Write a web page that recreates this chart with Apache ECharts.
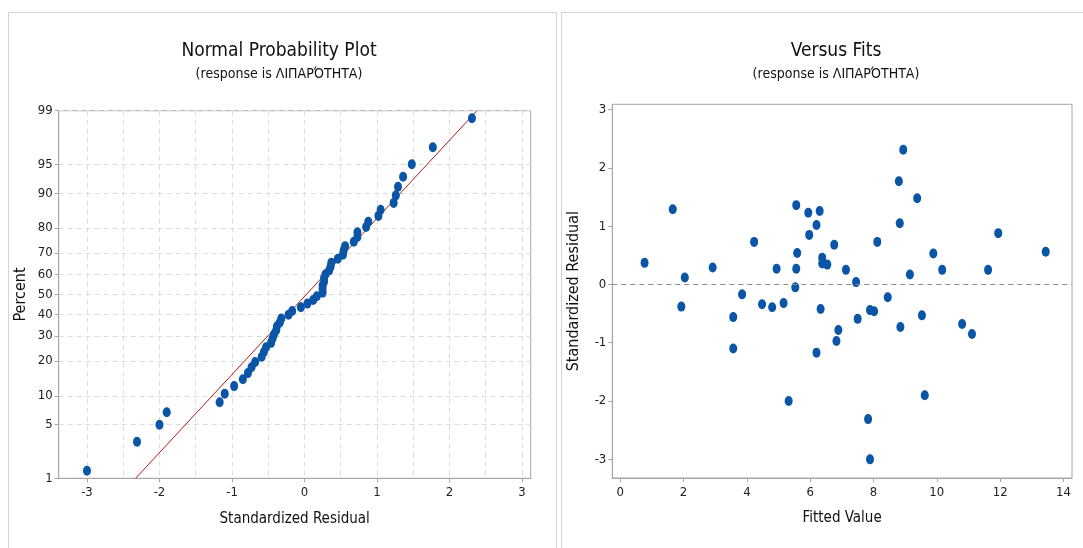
<!DOCTYPE html>
<html>
<head>
<meta charset="utf-8">
<script src="https://cdn.jsdelivr.net/npm/echarts@6/dist/echarts.min.js"></script>
<style>
html,body{margin:0;padding:0;background:#fff;}
#c{width:1083px;height:548px;}
</style>
</head>
<body>
<div id="c"></div>
<script>
// ---- data ----
const fitted = [0.77,1.66,2.04,1.93,2.92,3.57,3.57,3.85,4.23,4.48,4.80,4.94,5.16,5.32,5.53,5.56,5.59,5.56,5.94,5.97,6.20,6.30,6.20,6.33,6.38,6.38,6.54,6.76,6.89,6.83,7.13,7.45,7.50,7.89,8.02,7.83,7.89,8.12,8.45,8.80,8.94,8.83,8.85,9.15,9.38,9.53,9.62,9.89,10.17,10.80,11.11,11.62,11.94,13.44];
const residuals = [0.37,1.29,0.12,-0.38,0.29,-0.56,-1.10,-0.17,0.73,-0.34,-0.39,0.27,-0.32,-2.00,-0.05,1.36,0.54,0.27,1.23,0.85,1.02,1.26,-1.17,-0.42,0.46,0.36,0.34,0.68,-0.78,-0.97,0.25,0.04,-0.59,-0.44,-0.46,-2.31,-3.00,0.73,-0.22,1.77,2.31,1.05,-0.73,0.17,1.48,-0.53,-1.90,0.53,0.25,-0.68,-0.85,0.25,0.88,0.56];
const percentTicks = [1,5,10,20,30,40,50,60,70,80,90,95,99];
const nppXLabels = [-3,-2,-1,0,1,2,3];
const nppXGrid = [-3,-2.5,-2,-1.5,-1,-0.5,0,0.5,1,1.5,2,2.5,3];
const fitXLabels = [0,2,4,6,8,10,12,14];
const fitYLabels = [-3,-2,-1,0,1,2,3];
const responseName = 'ΛΙΠΑΡΌΤΗΤΑ';

// ---- normal probability scale helpers ----
function invNorm(p){
  const a=[-3.969683028665376e+01,2.209460984245205e+02,-2.759285104469687e+02,1.383577518672690e+02,-3.066479806614716e+01,2.506628277459239e+00];
  const b=[-5.447609879822406e+01,1.615858368580409e+02,-1.556989798598866e+02,6.680131188771972e+01,-1.328068155288572e+01];
  const c=[-7.784894002430293e-03,-3.223964580411365e-01,-2.400758277161838e+00,-2.549732539343734e+00,4.374664141464968e+00,2.938163982698783e+00];
  const d=[7.784695709041462e-03,3.224671290700398e-01,2.445134137142996e+00,3.754408661907416e+00];
  const pl=0.02425;
  let q,r;
  if(p<pl){q=Math.sqrt(-2*Math.log(p));return (((((c[0]*q+c[1])*q+c[2])*q+c[3])*q+c[4])*q+c[5])/((((d[0]*q+d[1])*q+d[2])*q+d[3])*q+1);}
  if(p>1-pl){q=Math.sqrt(-2*Math.log(1-p));return -(((((c[0]*q+c[1])*q+c[2])*q+c[3])*q+c[4])*q+c[5])/((((d[0]*q+d[1])*q+d[2])*q+d[3])*q+1);}
  q=p-0.5;r=q*q;
  return (((((a[0]*r+a[1])*r+a[2])*r+a[3])*r+a[4])*r+a[5])*q/(((((b[0]*r+b[1])*r+b[2])*r+b[3])*r+b[4])*r+1);
}
const zTicks = percentTicks.map(p=>invNorm(p/100));
function zToPercentLabel(v){
  let best=0,bd=1e9;
  zTicks.forEach((z,i)=>{const d=Math.abs(z-v); if(d<bd){bd=d;best=i;}});
  return String(percentTicks[best]);
}

const n = residuals.length;
const sorted = residuals.slice().sort((a,b)=>a-b);
const nppData = sorted.map((v,i)=>[v, invNorm((i+1-0.3)/(n+0.4))]);
const mean = residuals.reduce((s,v)=>s+v,0)/n;
const sd = Math.sqrt(residuals.reduce((s,v)=>s+(v-mean)*(v-mean),0)/(n-1));
const zLo = zTicks[0], zHi = zTicks[zTicks.length-1];
const fitLine = [[mean+sd*zLo, zLo],[mean+sd*zHi, zHi]];
const fitsData = fitted.map((f,i)=>[f, residuals[i]]);

// ---- styling ----
const FONT = "'Liberation Sans Narrow','DejaVu Sans Condensed','Open Sans',sans-serif";
const AX = '#a6a6a6';
const GRIDC = '#dcdcdc';
const DOT = '#0a55a6';
const lblStyle = {color:'#222', fontSize:13, fontFamily:FONT};
const nameStyle = {color:'#111', fontSize:15, fontFamily:FONT};

const chart = echarts.init(document.getElementById('c'), null, {renderer:'canvas'});
chart.setOption({
  animation:false,
  backgroundColor:'#fff',
  graphic:[
    {type:'rect', shape:{x:8.5,y:12.5,width:548,height:560}, style:{fill:'none', stroke:'#d4d4d4', lineWidth:1}, silent:true, z:-10},
    {type:'rect', shape:{x:561.5,y:12.5,width:540,height:560}, style:{fill:'none', stroke:'#d4d4d4', lineWidth:1}, silent:true, z:-10}
  ],
  title:[
    {text:'Normal Probability Plot', subtext:'(response is '+responseName+')', left:274, top:37, textAlign:'center', itemGap:6,
     textStyle:{fontSize:19, fontWeight:'normal', color:'#111', fontFamily:FONT},
     subtextStyle:{fontSize:14, color:'#111', fontFamily:FONT}},
    {text:'Versus Fits', subtext:'(response is '+responseName+')', left:831, top:37, textAlign:'center', itemGap:6,
     textStyle:{fontSize:19, fontWeight:'normal', color:'#111', fontFamily:FONT},
     subtextStyle:{fontSize:14, color:'#111', fontFamily:FONT}}
  ],
  grid:[
    {left:58.7, right:552.3, top:110.7, bottom:69.7, show:true, borderColor:AX, borderWidth:1, backgroundColor:'#fff'},
    {left:612.3, right:11, top:104.3, bottom:70, show:true, borderColor:AX, borderWidth:1, backgroundColor:'#fff'}
  ],
  xAxis:[
    {gridIndex:0, type:'value', min:-3.39, max:3.12, position:'bottom',
     axisLine:{show:true, onZero:false, lineStyle:{color:AX}},
     axisTick:{show:false, customValues:nppXGrid},
     axisLabel:{show:false},
     splitLine:{show:true, lineStyle:{color:GRIDC, type:[5,4], width:1}}},
    {gridIndex:0, type:'value', min:-3.39, max:3.12, position:'bottom',
     name:'Standardized Residual', nameLocation:'middle', nameGap:33, nameTextStyle:nameStyle,
     axisLine:{show:false, onZero:false},
     axisTick:{show:true, inside:false, length:4, customValues:nppXLabels, lineStyle:{color:AX}},
     axisLabel:{show:true, customValues:nppXLabels, margin:8, ...lblStyle},
     splitLine:{show:false}},
    {gridIndex:1, type:'value', min:-0.25, max:14.27, position:'bottom',
     name:'Fitted Value', nameLocation:'middle', nameGap:33, nameTextStyle:nameStyle,
     axisLine:{show:true, onZero:false, lineStyle:{color:AX}},
     axisTick:{show:true, length:4, customValues:fitXLabels, lineStyle:{color:AX}},
     axisLabel:{show:true, customValues:fitXLabels, margin:8, ...lblStyle},
     splitLine:{show:false}}
  ],
  yAxis:[
    {gridIndex:0, type:'value', min:zLo, max:zHi, position:'left',
     name:'Percent', nameLocation:'middle', nameGap:30, nameTextStyle:{...nameStyle, fontSize:16},
     axisLine:{show:true, onZero:false, lineStyle:{color:AX}},
     axisTick:{show:true, length:4, customValues:zTicks, lineStyle:{color:AX}},
     axisLabel:{show:true, customValues:zTicks, margin:6, ...lblStyle, formatter:zToPercentLabel},
     splitLine:{show:true, lineStyle:{color:GRIDC, type:[5,4], width:1}}},
    {gridIndex:1, type:'value', min:-3.32, max:3.09, position:'left',
     name:'Standardized Residual', nameLocation:'middle', nameGap:30, nameTextStyle:{...nameStyle, fontSize:16},
     axisLine:{show:true, onZero:false, lineStyle:{color:AX}},
     axisTick:{show:true, length:4, customValues:fitYLabels, lineStyle:{color:AX}},
     axisLabel:{show:true, customValues:fitYLabels, margin:6, ...lblStyle},
     splitLine:{show:false}}
  ],
  series:[
    {type:'line', xAxisIndex:0, yAxisIndex:0, data:fitLine, showSymbol:false, symbol:'none',
     lineStyle:{color:'#b01c1c', width:1}, silent:true, z:2},
    {type:'scatter', xAxisIndex:0, yAxisIndex:0, data:nppData, symbol:'circle', symbolSize:[8,10],
     itemStyle:{color:DOT, opacity:1}, z:3},
    {type:'scatter', xAxisIndex:2, yAxisIndex:1, data:fitsData, symbol:'circle', symbolSize:[8,10],
     itemStyle:{color:DOT, opacity:1}, z:3,
     markLine:{silent:true, symbol:'none', label:{show:false},
       lineStyle:{color:'#8c8c8c', type:[5,4], width:1}, data:[{yAxis:0}]}}
  ]
});
</script>
</body>
</html>
